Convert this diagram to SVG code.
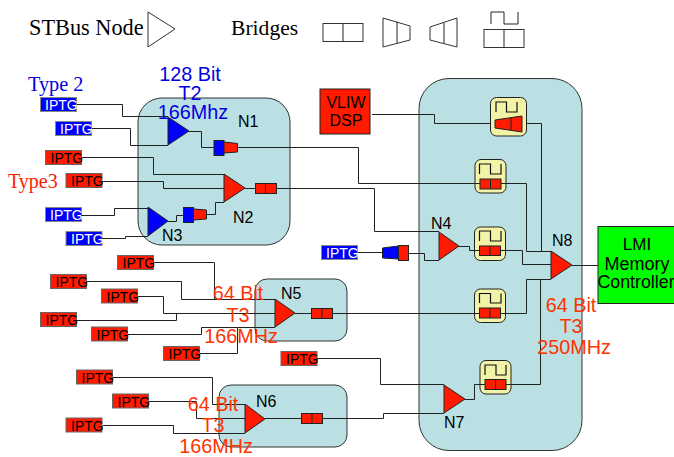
<svg xmlns="http://www.w3.org/2000/svg" width="674" height="457" viewBox="0 0 674 457">
<style>
text{font-family:"Liberation Sans",Arial,sans-serif}
.s{font-family:"Liberation Serif","Times New Roman",serif}
.leg{fill:#fff;stroke:#333;stroke-width:1}
.panel{fill:#bbe0e3;stroke:#333;stroke-width:1}
.w{fill:none;stroke:#222;stroke-width:1}
.r{fill:#ff1a00;stroke:#222;stroke-width:1}
.b{fill:#0000ff;stroke:#222;stroke-width:1}
.y{fill:#f3f3a8;stroke:#222;stroke-width:1}
.p{fill:none;stroke:#111;stroke-width:1.2}
.ib{fill:#0000ff;stroke:#888;stroke-width:1}
.ir{fill:#ff1a00;stroke:#666;stroke-width:1}
.tb{font-size:14px;fill:#fff}
.tr{font-size:14px;fill:#000}
.n{font-size:16px;fill:#000}
.or{font-size:19.8px;fill:#ff3300;text-anchor:middle}
.bl{font-size:19.8px;fill:#0000e0;text-anchor:middle}
.c{font-size:16px;fill:#000;text-anchor:middle}
</style>
<g id="legend">
<text class="s" x="29" y="35" font-size="22.3" fill="#000">STBus Node</text>
<polygon class="leg" points="148,12 175,29 148,47"/>
<text class="s" x="231" y="35" font-size="21.6" fill="#000">Bridges</text>
<rect class="leg" x="323" y="23.500" width="40" height="18"/><path class="w" d="M343 23.500V41.500"/>
<polygon class="leg" points="383,18 410,26 410,40 383,47"/><path class="w" d="M397 22V43"/>
<polygon class="leg" points="457,18 430,27 430,40 457,47"/><path class="w" d="M444 23V43"/>
<path class="w" d="M491 24V12H504V24H518V12"/>
<rect class="leg" x="484" y="29.500" width="40" height="18"/><path class="w" d="M504 29.500V47.500"/>
</g>
<g id="panels">
<rect class="panel" x="138" y="98" width="152" height="147" rx="24"/>
<rect class="panel" x="419" y="78.500" width="163" height="372" rx="30"/>
<rect class="panel" x="255" y="279" width="92" height="62" rx="12"/>
<rect class="panel" x="219" y="385" width="128" height="62" rx="12"/>
</g>
<g id="iptg-initiators">
<g id="i1"><rect class="ib" x="40.500" y="97.500" width="36" height="14"/><text class="tb" x="45" y="110">IPTG</text></g>
<g id="i2"><rect class="ib" x="55.500" y="121.500" width="36" height="14"/><text class="tb" x="60" y="134">IPTG</text></g>
<g id="i3"><rect class="ir" x="45.500" y="150.500" width="36" height="14"/><text class="tr" x="50.500" y="163">IPTG</text></g>
<g id="i4"><rect class="ir" x="66" y="173.500" width="36" height="14"/><text class="tr" x="71" y="186">IPTG</text></g>
<g id="i5"><rect class="ib" x="45.500" y="207.500" width="36" height="14"/><text class="tb" x="50" y="220">IPTG</text></g>
<g id="i6"><rect class="ib" x="66" y="231.500" width="36" height="14"/><text class="tb" x="71" y="244">IPTG</text></g>
<g id="i7"><rect class="ib" x="321.500" y="245.500" width="36" height="14"/><text class="tb" x="326" y="258">IPTG</text></g>
<g id="i8"><rect class="ir" x="117.500" y="255.500" width="36" height="14"/><text class="tr" x="122.500" y="268">IPTG</text></g>
<g id="i9"><rect class="ir" x="50.500" y="274.500" width="36" height="14"/><text class="tr" x="55.500" y="287">IPTG</text></g>
<g id="i10"><rect class="ir" x="101.500" y="289" width="36" height="14"/><text class="tr" x="106.500" y="302">IPTG</text></g>
<g id="i11"><rect class="ir" x="40.500" y="312.500" width="36" height="14"/><text class="tr" x="45.500" y="325">IPTG</text></g>
<g id="i12"><rect class="ir" x="91.500" y="327" width="36" height="14"/><text class="tr" x="96.500" y="340">IPTG</text></g>
<g id="i13"><rect class="ir" x="163.500" y="346.500" width="36" height="14"/><text class="tr" x="168.500" y="359">IPTG</text></g>
<g id="i14"><rect class="ir" x="76.500" y="370" width="36" height="14"/><text class="tr" x="81.500" y="383">IPTG</text></g>
<g id="i15"><rect class="ir" x="112.500" y="394" width="36" height="14"/><text class="tr" x="117.500" y="407">IPTG</text></g>
<g id="i16"><rect class="ir" x="66" y="418" width="36" height="14"/><text class="tr" x="71" y="431">IPTG</text></g>
<g id="i17"><rect class="ir" x="281" y="351.500" width="36" height="14"/><text class="tr" x="286" y="364">IPTG</text></g>
</g>
<g id="N1"><polygon class="b" points="168,117 189,131 168,145"/><text class="n" x="238" y="127">N1</text></g>
<g id="N2"><polygon class="r" points="224,174 245,188 224,202"/><text class="n" x="233" y="223">N2</text></g>
<g id="N3"><polygon class="b" points="148,207 168,221 148,236"/><text class="n" x="162" y="241">N3</text></g>
<g id="N4"><polygon class="r" points="439,232 459,246 439,260"/><text class="n" x="431" y="229">N4</text></g>
<g id="N5"><polygon class="r" points="275,299 295,313 275,327"/><text class="n" x="281" y="299">N5</text></g>
<g id="N6"><polygon class="r" points="245,404 265,419 245,433"/><text class="n" x="256" y="407">N6</text></g>
<g id="N7"><polygon class="r" points="444,385 465,399 444,413"/><text class="n" x="444" y="428">N7</text></g>
<g id="N8"><polygon class="r" points="551,251 572,265 551,279"/><text class="n" x="552" y="246">N8</text></g>
<g id="bridge-n1"><rect class="b" x="214" y="140.500" width="10" height="15"/><polygon class="r" points="224,142 237.500,143.500 237.500,152 224,153"/></g>
<g id="bridge-n2"><rect class="r" x="255.500" y="183.500" width="21" height="10"/><path class="w" d="M265.500 183.500V193.500"/></g>
<g id="bridge-n3"><rect class="b" x="183.500" y="207.500" width="10" height="15"/><polygon class="r" points="193.500,209 206.500,210 206.500,219 193.500,220"/></g>
<g id="bridge-i7"><polygon class="b" points="382.500,248 398.500,246 398.500,259 382.500,258"/><rect class="r" x="398.500" y="245.500" width="10" height="15"/></g>
<g id="bridge-n5"><rect class="r" x="311.500" y="308.500" width="21" height="10"/><path class="w" d="M322 308.500V318.500"/></g>
<g id="bridge-n6"><rect class="r" x="301.500" y="413.500" width="21" height="10"/><path class="w" d="M312 413.500V423.500"/></g>
<g id="sync-top"><rect class="y" x="490.500" y="97.500" width="36" height="38.500" rx="6"/><path class="p" d="M496 112V102H506.500V112H517V102"/><polygon class="r" points="495,120 522,116 522,132 495,128"/><path class="w" d="M511 118V130"/></g>
<g id="sync-a"><rect class="y" x="475" y="159.500" width="31" height="33.500" rx="6"/><path class="p" d="M479.500 174V164H490.500V174H501V164"/><rect class="r" x="480" y="179" width="21" height="10"/><path class="w" d="M490.500 179V189"/></g>
<g id="sync-b"><rect class="y" x="474.500" y="227" width="31" height="33.500" rx="6"/><path class="p" d="M479.500 241V231H490.500V241H501V231"/><rect class="r" x="479.500" y="246" width="21" height="9.500"/><path class="w" d="M490 246V255.500"/></g>
<g id="sync-c"><rect class="y" x="474.500" y="289" width="31" height="33.500" rx="6"/><path class="p" d="M479.500 303V293.500H490.500V303H501V293.500"/><rect class="r" x="479.500" y="308" width="21" height="10"/><path class="w" d="M490 308V318"/></g>
<g id="sync-d"><rect class="y" x="480" y="360.500" width="31" height="33.500" rx="6"/><path class="p" d="M485 375V365H496V375H506V365"/><rect class="r" x="485" y="379.500" width="21" height="10"/><path class="w" d="M495.500 379.500V389.500"/></g>
<g id="vliw"><rect class="r" x="320" y="89" width="50" height="45" stroke="#666"/><text class="c" x="346" y="108" font-size="15.500">VLIW</text><text class="c" x="346" y="126" font-size="15.500">DSP</text></g>
<g id="lmi"><rect x="598" y="226.500" width="77" height="77" fill="#00ff00" stroke="#222"/><text x="637" y="250" font-size="17" text-anchor="middle">LMI</text><text x="637" y="270" font-size="18" text-anchor="middle">Memory</text><text x="597.500" y="288" font-size="17.800">Controller</text></g>
<g id="connectors">
<path class="w" d="M77 104.500H122.500V116.500H168"/>
<path class="w" d="M92 128.500H130.500V145.500H168"/>
<path class="w" d="M189 131.500H201.500V147.500H214"/>
<path class="w" d="M237.500 147.500H358.500V183.500H480"/>
<path class="w" d="M501 183.500H526.500V251.500H551"/>
<path class="w" d="M82 157.500H153.500V174.500H224"/>
<path class="w" d="M103 181.500H163.500V188.500H224"/>
<path class="w" d="M207 214.500H215.500V202.500H224"/>
<path class="w" d="M81 215.500H114.500V208.500H148"/>
<path class="w" d="M102 238.500H125.500V236.500H148"/>
<path class="w" d="M168 221.500H176.500V215.500H183"/>
<path class="w" d="M245 188.500H255.500"/>
<path class="w" d="M276.500 188.500H374.500V231.500H439"/>
<path class="w" d="M358 252.500H382.500"/>
<path class="w" d="M408.500 253.500H424.500V260.500H439"/>
<path class="w" d="M459 246.500H469.500V250.500H479.500"/>
<path class="w" d="M500.500 250.500H522.500V264.500H551"/>
<path class="w" d="M372 114.500H434.500V123.500H490.500"/>
<path class="w" d="M526.500 123.500H541.500V251.500"/>
<path class="w" d="M572 265.500H598"/>
<path class="w" d="M154 262.500H214.500V299.500H275"/>
<path class="w" d="M87 281.500H181.500V299.500H275"/>
<path class="w" d="M138 296.500H163.500V313.500H275"/>
<path class="w" d="M77 320.500H176.500V313.500"/>
<path class="w" d="M128 334.500H201.500V327.500H275"/>
<path class="w" d="M200 353.500H237.500V327.500"/>
<path class="w" d="M295 313.500H311.500"/>
<path class="w" d="M332.500 313.500H479.500"/>
<path class="w" d="M500.500 313.500H526.500V279.500H551"/>
<path class="w" d="M113 377.500H212.500V404.500H245"/>
<path class="w" d="M149 401.500H196.500V418.500H245"/>
<path class="w" d="M103 425.500H173.500V433.500H245"/>
<path class="w" d="M265 418.500H301.500"/>
<path class="w" d="M322.500 418.500H383.500V413.500H444"/>
<path class="w" d="M317 358.500H380.500V384.500H444"/>
<path class="w" d="M465 399.500H474.500V384.500H485"/>
<path class="w" d="M506 384.500H540.500V279.500H551"/>
</g>
<g id="labels">
<text class="s" x="28" y="91" font-size="20.300" fill="#0000e0">Type 2</text>
<text class="s" x="8" y="188" font-size="20" fill="#ff1a00">Type3</text>
<text class="bl" x="190" y="81">128 Bit</text><text class="bl" x="190" y="100">T2</text><text class="bl" x="193" y="119">166Mhz</text>
<text class="or" x="238" y="300">64 Bit</text><text class="or" x="238" y="322">T3</text><text class="or" x="241" y="343">166MHz</text>
<text class="or" x="213" y="411">64 Bit</text><text class="or" x="213" y="432">T3</text><text class="or" x="216" y="452.500">166MHz</text>
<text class="or" x="571" y="312">64 Bit</text><text class="or" x="571" y="333">T3</text><text class="or" x="574" y="354">250MHz</text>
</g>
</svg>
